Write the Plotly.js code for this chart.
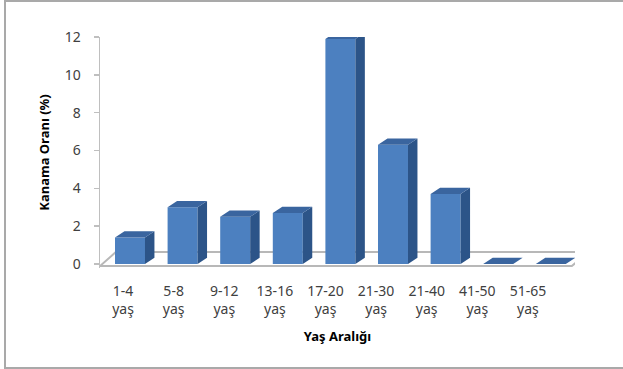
<!DOCTYPE html>
<html>
<head>
<meta charset="utf-8">
<script src="https://cdn.plot.ly/plotly-3.0.1.min.js"></script>
<style>
  html, body { margin: 0; padding: 0; width: 623px; height: 369px; overflow: hidden; background: #fff; }
  #chart { position: absolute; left: 0; top: 0; width: 623px; height: 369px; }
  #frame { position: absolute; left: 4px; top: 0px; width: 640px; height: 365px;
           border: 2px solid #a9a9a9; pointer-events: none; box-sizing: content-box; }
</style>
</head>
<body>
<div id="chart"></div>
<div id="frame"></div>
<script>
// ---- data ----
const categories = ['1-4', '5-8', '9-12', '13-16', '17-20', '21-30', '21-40', '41-50', '51-65'];
const unitWord = 'yaş';
const values = [1.4, 3.0, 2.5, 2.7, 11.9, 6.3, 3.7, 0, 0];
const yTicks = [0, 2, 4, 6, 8, 10, 12];
const xTitle = 'Yaş Aralığı';
const yTitle = 'Kanama Oranı (%)';

// ---- styling constants ----
const FONT = 'Noto Sans, Open Sans, sans-serif';
const barW = 0.57;          // front face width (x2 units)
const dX = 0.18, dY = 0.33; // bar depth offsets (x2 units, y units)
const colFront = '#4c80c0', colSide = '#2c5488', colTop = '#3a659f';

const idx = categories.map((_, i) => i);
const tickText = categories.map(c => c + '<br>' + unitWord);

// side and top faces from the values
const sideX = [], sideY = [], topX = [], topY = [];
values.forEach((v, i) => {
  const l = i - barW / 2, r = i + barW / 2;
  if (v > 0) {
    sideX.push(r, r + dX, r + dX, r, r, null);
    sideY.push(0, dY, v + dY, v, 0, null);
  }
  topX.push(l, l + dX, r + dX, r, l, null);
  topY.push(v, v + dY, v + dY, v, v, null);
});

const x2Range = [-0.57, 8.46];
const n = categories.length;
const floorL = x2Range[0], floorR = n - 1 + 0.4;
const fdx = 0.30, fdy0 = -0.11, fdy1 = 0.63;
const floorPath = `M ${floorL},${fdy0} L ${floorR},${fdy0} L ${floorR + fdx},${fdy1} L ${floorL + fdx},${fdy1} Z`;

const traces = [
  { type: 'bar', x: idx, y: values, xaxis: 'x2', yaxis: 'y', width: barW,
    marker: { color: colFront, line: { width: 0 } }, hoverinfo: 'skip', showlegend: false },
  { type: 'scatter', mode: 'lines', x: sideX, y: sideY, xaxis: 'x2', yaxis: 'y',
    fill: 'toself', fillcolor: colSide, line: { width: 0 }, hoverinfo: 'skip', showlegend: false },
  { type: 'scatter', mode: 'lines', x: topX, y: topY, xaxis: 'x2', yaxis: 'y',
    fill: 'toself', fillcolor: colTop, line: { width: 0 }, hoverinfo: 'skip', showlegend: false },
  // invisible trace to anchor the category axis
  { type: 'scatter', mode: 'markers', x: idx, y: values.map(() => 0), xaxis: 'x', yaxis: 'y',
    marker: { opacity: 0 }, hoverinfo: 'skip', showlegend: false }
];

const layout = {
  width: 623, height: 369,
  margin: { l: 100, r: 48, t: 37, b: 101 },
  paper_bgcolor: '#ffffff', plot_bgcolor: 'rgba(0,0,0,0)',
  showlegend: false,
  font: { family: FONT, size: 13, color: '#404040' },
  xaxis: {
    range: [-0.455, 8.93], tickmode: 'array', tickvals: idx, ticktext: tickText,
    showline: false, showgrid: false, zeroline: false, ticks: '', ticklabelstandoff: 13,
    tickfont: { family: FONT, size: 14, color: '#404040' },
    title: { text: xTitle, font: { family: FONT, size: 13, color: '#000', weight: 'bold' }, standoff: 14 },
    fixedrange: true
  },
  xaxis2: { range: x2Range, overlaying: 'x', visible: false, fixedrange: true },
  yaxis: {
    range: [-0.21, 12], tickmode: 'array', tickvals: yTicks,
    showline: true, linecolor: '#bfbfbf', linewidth: 1.5,
    ticks: 'outside', ticklen: 5, tickcolor: '#bfbfbf', tickwidth: 1.5,
    showgrid: false, zeroline: false, ticklabelstandoff: 10,
    tickfont: { family: FONT, size: 14, color: '#404040' },
    title: { text: yTitle, font: { family: FONT, size: 13, color: '#000', weight: 'bold' }, standoff: 12 },
    fixedrange: true
  },
  shapes: [
    { type: 'path', xref: 'x2', yref: 'y', layer: 'below', path: floorPath,
      line: { color: '#b8b8b8', width: 2 }, fillcolor: '#ffffff' }
  ]
};

Plotly.newPlot('chart', traces, layout, { staticPlot: true, displayModeBar: false });
</script>
</body>
</html>
